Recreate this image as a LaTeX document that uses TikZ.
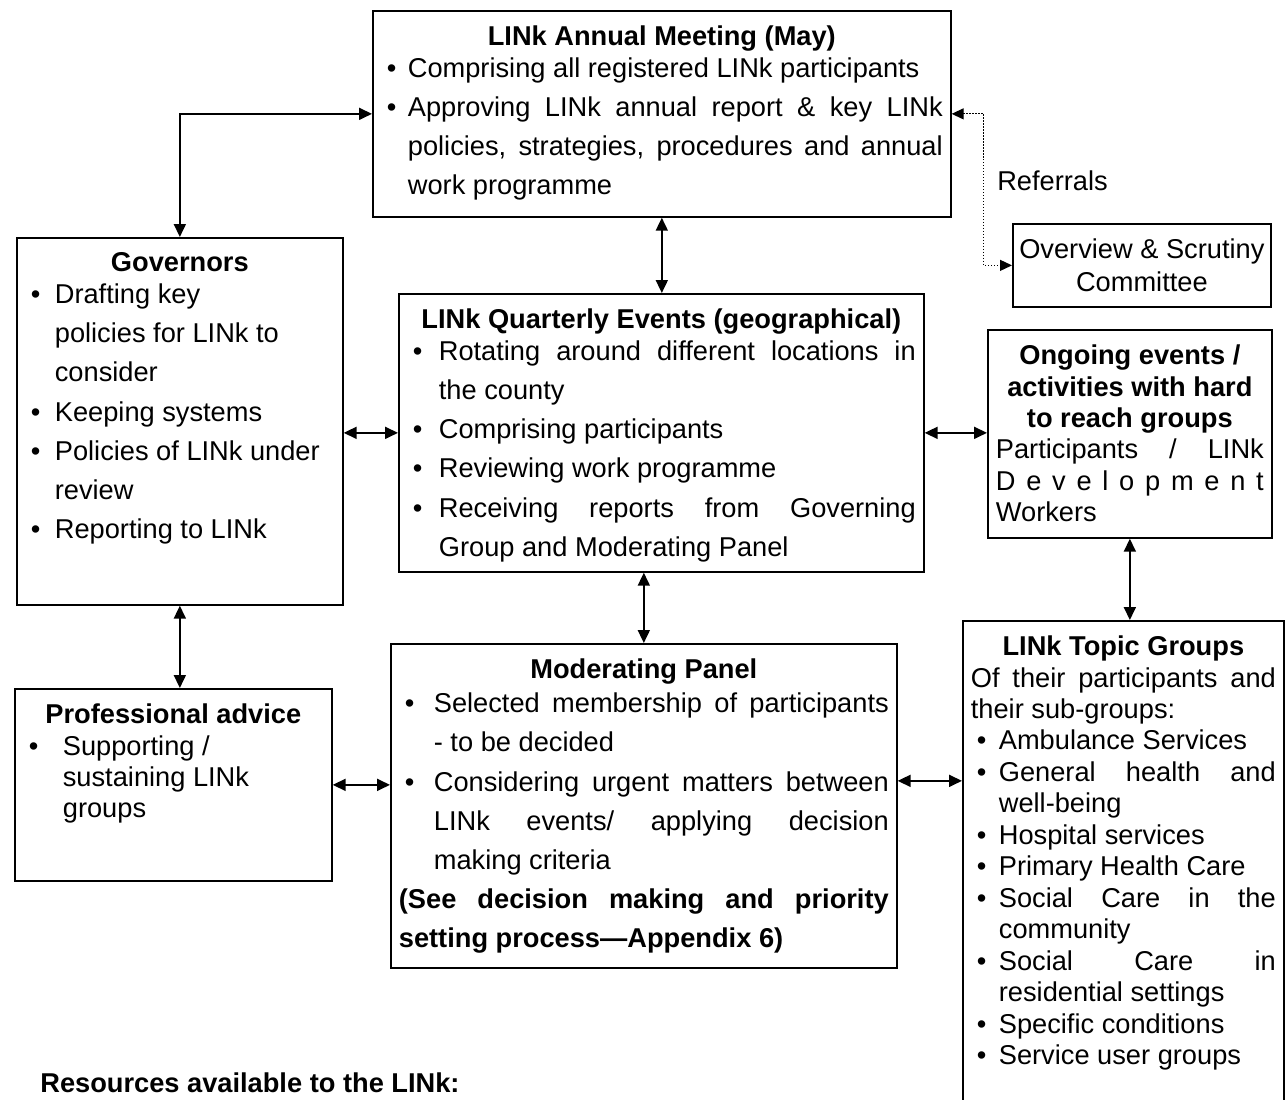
\documentclass[tikz,border=0pt]{standalone}
\usepackage{fontspec}
\setmainfont{Liberation Sans}
\usepackage{tikz}
\usetikzlibrary{arrows.meta}
\usetikzlibrary{calc}

\newlength{\bindent}
\newcommand{\bitem}[1]{\par\noindent\hangindent=\bindent\hangafter=1\makebox[\bindent][l]{\hspace{0.12cm}\textbullet}#1}
\newcommand{\bodysize}{\fontsize{15.5}{22.3}\selectfont}
\newcommand{\tightsize}{\fontsize{15.5}{17.9}\selectfont}
\newcommand{\boxtitle}[1]{{\centering\bfseries #1\par}}

\tikzset{
  box/.style={draw, line width=1pt, anchor=north west, inner xsep=0.16cm, inner ysep=0.3cm},
  link/.style={line width=1pt, {Triangle[length=0.26cm,width=0.24cm]}-{Triangle[length=0.26cm,width=0.24cm]}},
  refer/.style={line width=0.7pt, densely dotted, {Triangle[length=0.24cm,width=0.22cm]}-{Triangle[length=0.24cm,width=0.22cm]}}
}

\begin{document}
\begin{tikzpicture}[x=0.02cm, y=-0.02cm, font=\fontsize{15.5}{18.6}\selectfont]
\useasboundingbox (0,0) rectangle (1287,1099);
\node[box] (ann) at (372,10) {\parbox[t][3.52cm][t]{11.24cm}{\bodysize\setlength{\bindent}{0.54cm}
\boxtitle{LINk Annual Meeting (May)}\vspace{-0.15cm}
\bitem{Comprising all registered LINk participants}
\bitem{Approving LINk annual report \& key LINk\linebreak policies, strategies, procedures and annual\linebreak work programme}}};
\node[box, minimum width=5.16cm, minimum height=1.66cm, inner sep=0pt, align=center] (osc) at (1012,223) {Overview \& Scrutiny\\Committee};
\node[box] (gov) at (16,237) {\parbox[t][6.74cm][t]{6.20cm}{\bodysize\setlength{\bindent}{0.6cm}
\boxtitle{Governors}\vspace{-0.15cm}
\bitem{Drafting key\\ policies for LINk to\\ consider}
\bitem{Keeping systems}
\bitem{Policies of LINk under\\ review}
\bitem{Reporting to LINk}}};
\node[box] (qtr) at (398,293) {\parbox[t][4.96cm][t]{10.18cm}{\bodysize\setlength{\bindent}{0.64cm}
\boxtitle{LINk Quarterly Events (geographical)}\vspace{-0.15cm}
\bitem{Rotating around different locations in\linebreak the county}
\bitem{Comprising participants}
\bitem{Reviewing work programme}
\bitem{Receiving reports from Governing\linebreak Group and Moderating Panel}}};
\node[box] (ong) at (987,329) {\parbox[t][3.56cm][t]{5.36cm}{\tightsize
\boxtitle{Ongoing events /\\ activities with hard\\ to reach groups}
\noindent Participants / LINk\linebreak \makebox[\linewidth][s]{D\hfil e\hfil v\hfil e\hfil l\hfil o\hfil p\hfil m\hfil e\hfil n\hfil t}\linebreak Workers}};
\node[box] (pro) at (14,688) {\parbox[t][3.24cm][t]{6.02cm}{\tightsize\setlength{\bindent}{0.8cm}
\boxtitle{Professional advice}
\bitem{Supporting /\\ sustaining LINk\\ groups}}};
\node[box] (mod) at (390,643) {\parbox[t][5.88cm][t]{9.80cm}{\bodysize\setlength{\bindent}{0.7cm}
\boxtitle{Moderating Panel}\vspace{-0.1cm}
\bitem{Selected membership of participants\linebreak - to be decided}
\bitem{Considering urgent matters between\linebreak LINk events/ applying decision\linebreak making criteria}
\par\noindent{\bfseries (See decision making and priority\linebreak setting process—Appendix 6)}}};
\node[box] (top) at (962,620) {\parbox[t][9.08cm][t]{6.10cm}{\tightsize\setlength{\bindent}{0.56cm}
\boxtitle{LINk Topic Groups}
\noindent Of their participants and\linebreak their sub-groups:
\bitem{Ambulance Services}
\bitem{General health and\linebreak well-being}
\bitem{Hospital services}
\bitem{Primary Health Care}
\bitem{Social Care in the\linebreak community}
\bitem{Social Care in\linebreak residential settings}
\bitem{Specific conditions}
\bitem{Service user groups}}};
\node[anchor=base west, inner sep=0pt, font=\fontsize{15.5}{18.6}\selectfont\bfseries] (res) at (40,1092) {Resources available to the LINk:};
\draw[link] (ann.west) -| (gov.north);
\draw[link] (ann.south) -- (ann.south |- qtr.north);
\draw[refer] (ann.east) -- ++(32,0) |- node[pos=0.22, right, inner sep=0pt, xshift=0.26cm] (refs) {Referrals} (osc.west);
\draw[link] (qtr.west) -- (qtr.west -| gov.east);
\draw[link] (qtr.east) -- (qtr.east -| ong.west);
\draw[link] (ong.south) -- (ong.south |- top.north);
\draw[link] (mod.north) -- (mod.north |- qtr.south);
\draw[link] (gov.south) -- (gov.south |- pro.north);
\draw[link] (pro.east) -- (pro.east -| mod.west);
\coordinate (mt) at ($(mod.east)+(0,-25)$);
\draw[link] (mt) -- (mt -| top.west);
\end{tikzpicture}
\end{document}
